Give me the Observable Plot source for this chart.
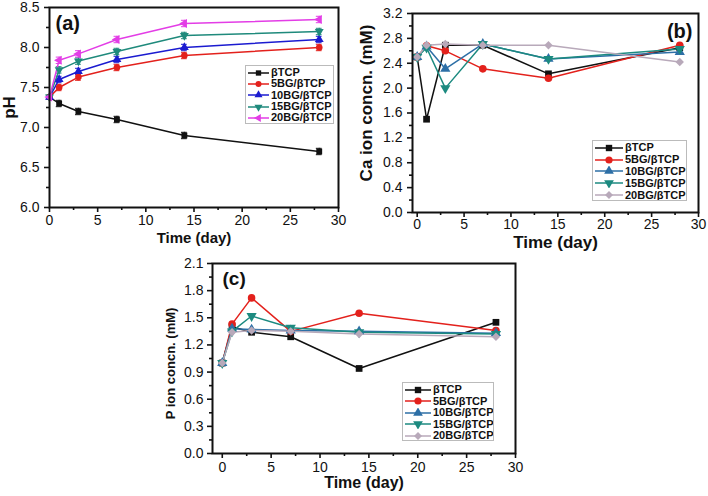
<!DOCTYPE html>
<html><head><meta charset="utf-8">
<script src="https://cdn.jsdelivr.net/npm/d3@7"></script>
<script src="https://cdn.jsdelivr.net/npm/@observablehq/plot@0.6"></script>
<style>
body{margin:0;background:#fff;}
#root{position:relative;width:708px;height:496px;overflow:hidden;background:#fff;font-family:"Liberation Sans",Arial,sans-serif;}
.panel{position:absolute;}
.legend{position:absolute;background:#fff;border:1px solid #bbb;font-weight:bold;color:#111;box-sizing:border-box;padding:1px 2px;font-size:11px;line-height:11px;overflow:hidden;}
.legend .row{display:flex;align-items:center;white-space:nowrap;}
.legend svg{flex:none;margin-right:2px;}
</style></head><body><div id="root"></div>
<script>
// ---------- data ----------
const days = [0, 1, 3, 7, 14, 28];
const seriesNames = ["βTCP", "5BG/βTCP", "10BG/βTCP", "15BG/βTCP", "20BG/βTCP"];

const pH_bTCP = [7.38, 7.30, 7.20, 7.10, 6.90, 6.70];
const pH_5BG  = [7.38, 7.50, 7.63, 7.75, 7.90, 8.00];
const pH_10BG = [7.38, 7.60, 7.70, 7.85, 8.00, 8.10];
const pH_15BG = [7.38, 7.72, 7.83, 7.95, 8.15, 8.20];
const pH_20BG = [7.38, 7.84, 7.92, 8.10, 8.30, 8.35];
const pH_err  = [0.00, 0.04, 0.04, 0.04, 0.04, 0.04];

const Ca_bTCP = [2.50, 1.50, 2.69, 2.69, 2.23, 2.65];
const Ca_5BG  = [2.50, 2.68, 2.60, 2.31, 2.16, 2.69];
const Ca_10BG = [2.50, 2.67, 2.31, 2.71, 2.47, 2.58];
const Ca_15BG = [2.50, 2.65, 2.00, 2.71, 2.47, 2.63];
const Ca_20BG = [2.50, 2.69, 2.71, 2.69, 2.69, 2.42];

const P_bTCP = [1.00, 1.40, 1.34, 1.29, 0.94, 1.45];
const P_5BG  = [1.00, 1.43, 1.72, 1.35, 1.55, 1.36];
const P_10BG = [1.00, 1.38, 1.37, 1.36, 1.35, 1.33];
const P_15BG = [1.00, 1.35, 1.52, 1.39, 1.34, 1.32];
const P_20BG = [1.00, 1.34, 1.36, 1.35, 1.32, 1.29];

const xTicks = [0, 5, 10, 15, 20, 25, 30];
const xMinor = [2.5, 7.5, 12.5, 17.5, 22.5, 27.5];
const pHTicks = [6.0, 6.5, 7.0, 7.5, 8.0, 8.5];
const pHMinor = [6.25, 6.75, 7.25, 7.75, 8.25];
const CaTicks = [0.0, 0.4, 0.8, 1.2, 1.6, 2.0, 2.4, 2.8, 3.2];
const CaMinor = [0.2, 0.6, 1.0, 1.4, 1.8, 2.2, 2.6, 3.0];
const PTicks = [0.0, 0.3, 0.6, 0.9, 1.2, 1.5, 1.8, 2.1];
const PMinor = [0.15, 0.45, 0.75, 1.05, 1.35, 1.65, 1.95];

const xLabel = "Time (day)";
const yLabels = ["pH", "Ca ion concn. (mM)", "P ion concn. (mM)"];
const panelLabels = ["(a)", "(b)", "(c)"];

// ---------- styles ----------
const colorsA = ["#111111", "#e3211c", "#1b1bd0", "#1f8a7c", "#e33de6"];
const colorsBC = ["#111111", "#e3211c", "#2d6fa6", "#1c8a80", "#b8a9ba"];

const triDown = {draw(ctx, size) {
  const y = -Math.sqrt(size / (Math.sqrt(3) * 3));
  ctx.moveTo(0, -y * 2); ctx.lineTo(-Math.sqrt(3) * y, y); ctx.lineTo(Math.sqrt(3) * y, y); ctx.closePath();
}};
const triLeft = {draw(ctx, size) {
  const y = -Math.sqrt(size / (Math.sqrt(3) * 3));
  ctx.moveTo(y * 2, 0); ctx.lineTo(-y, -Math.sqrt(3) * y); ctx.lineTo(-y, Math.sqrt(3) * y); ctx.closePath();
}};
const symbolsA = [d3.symbolSquare, d3.symbolCircle, d3.symbolTriangle, triDown, triLeft];
const symbolsBC = [d3.symbolSquare, d3.symbolCircle, d3.symbolTriangle, triDown, d3.symbolDiamond2];

function rows(values, err) {
  return days.map((x, j) => ({x, y: values[j], err: err ? err[j] : 0}));
}

function panel(cfg) {
  const marks = [];
  cfg.series.forEach((vals, i) => {
    const data = rows(vals, cfg.err);
    const c = cfg.colors[i];
    marks.push(Plot.line(data, {x: "x", y: "y", stroke: c, strokeWidth: 1.5}));
    if (cfg.err) {
      const eb = data.filter(d => d.err > 0);
      marks.push(Plot.ruleX(eb, {x: "x", y1: d => d.y - d.err, y2: d => d.y + d.err, stroke: c, strokeWidth: 1}));
      marks.push(Plot.ruleY(eb, {y: d => d.y + d.err, x1: d => d.x - 0.3, x2: d => d.x + 0.3, stroke: c, strokeWidth: 1}));
      marks.push(Plot.ruleY(eb, {y: d => d.y - d.err, x1: d => d.x - 0.3, x2: d => d.x + 0.3, stroke: c, strokeWidth: 1}));
    }
  });
  cfg.series.forEach((vals, i) => {
    const data = rows(vals);
    marks.push(Plot.dot(data, {x: "x", y: "y", symbol: cfg.symbols[i], r: cfg.r, fill: cfg.colors[i], stroke: "none"}));
  });
  marks.push(
    Plot.axisX(xTicks, {tickSize: 5, tickPadding: cfg.xPad, strokeWidth: 1.6, fontSize: cfg.tickFont, label: null}),
    Plot.axisX(xMinor, {tickSize: 3, strokeWidth: 1.6, tickFormat: () => "", label: null}),
    Plot.axisY(cfg.yTicks, {tickSize: 5, tickPadding: cfg.yPad, strokeWidth: 1.6, fontSize: cfg.tickFont, tickFormat: d => d.toFixed(1), label: null}),
    Plot.axisY(cfg.yMinor, {tickSize: 3, strokeWidth: 1.6, tickFormat: () => "", label: null}),
    Plot.frame({stroke: "#111", strokeWidth: 2}),
    Plot.text([xLabel], {frameAnchor: "bottom", textAnchor: "middle", lineAnchor: "top", dy: cfg.xLabDy, fontSize: cfg.xLabFont, fontWeight: "bold", fill: "#111"}),
    Plot.text([cfg.yLabel], {frameAnchor: "left", textAnchor: "middle", lineAnchor: "middle", rotate: -90, dx: cfg.yLabDx, dy: cfg.yLabDy, fontSize: cfg.yLabFont, fontWeight: "bold", fill: "#111"}),
    Plot.text([cfg.panelLabel], {frameAnchor: cfg.plAnchor, textAnchor: cfg.plTextAnchor, lineAnchor: "top", dx: cfg.plDx, dy: cfg.plDy, fontSize: cfg.plFont, fontWeight: "bold", fill: "#111"})
  );
  const p = Plot.plot({
    width: cfg.width, height: cfg.height,
    marginLeft: cfg.m[0], marginTop: cfg.m[1], marginRight: cfg.m[2], marginBottom: cfg.m[3],
    x: {domain: cfg.xDomain}, y: {domain: cfg.yDomain},
    style: {fontFamily: '"Liberation Sans", Arial, sans-serif', color: "#111", background: "transparent", overflow: "visible"},
    marks
  });
  const div = document.createElement("div");
  div.className = "panel";
  div.style.left = cfg.left + "px"; div.style.top = cfg.top + "px";
  div.appendChild(p);
  document.getElementById("root").appendChild(div);
}

function legend(cfg) {
  const box = document.createElement("div");
  box.className = "legend";
  Object.assign(box.style, {left: cfg.left + "px", top: cfg.top + "px", width: cfg.w + "px", height: cfg.h + "px"});
  seriesNames.forEach((name, i) => {
    const row = document.createElement("div");
    row.className = "row";
    row.style.height = cfg.rowH + "px";
    const sw = cfg.sw;
    const svg = d3.create("svg").attr("width", sw).attr("height", 10);
    svg.append("line").attr("x1", 0).attr("x2", sw).attr("y1", 5).attr("y2", 5).attr("stroke", cfg.colors[i]).attr("stroke-width", 1.5);
    svg.append("path").attr("d", d3.symbol(cfg.symbols[i], cfg.r * cfg.r * Math.PI)()).attr("transform", `translate(${sw / 2},5)`).attr("fill", cfg.colors[i]);
    row.appendChild(svg.node());
    const t = document.createElement("span");
    t.textContent = name;
    row.appendChild(t);
    box.appendChild(row);
  });
  document.getElementById("root").appendChild(box);
}

// (a) pH
panel({
  left: 0, top: 0, width: 345, height: 245, m: [49, 7, 7, 38],
  xDomain: [0, 30], yDomain: [6, 8.5], yTicks: pHTicks, yMinor: pHMinor,
  series: [pH_bTCP, pH_5BG, pH_10BG, pH_15BG, pH_20BG], err: pH_err,
  colors: colorsA, symbols: symbolsA, r: 3.3,
  tickFont: 14, xPad: 3, yPad: 5,
  xLabDy: 25, xLabFont: 15, yLabel: yLabels[0], yLabDx: -40, yLabDy: 0, yLabFont: 17,
  panelLabel: panelLabels[0], plAnchor: "top-left", plTextAnchor: "start", plDx: 6, plDy: 8, plFont: 20
});
legend({left: 245, top: 65, w: 89, h: 59, rowH: 11.3, sw: 21, r: 3, colors: colorsA, symbols: symbolsA});

// (b) Ca
panel({
  left: 354, top: 0, width: 354, height: 250, m: [58, 13, 10, 38],
  xDomain: [-0.5, 30], yDomain: [0, 3.2], yTicks: CaTicks, yMinor: CaMinor,
  series: [Ca_bTCP, Ca_5BG, Ca_10BG, Ca_15BG, Ca_20BG],
  colors: colorsBC, symbols: symbolsBC, r: 3.8,
  tickFont: 14, xPad: 2, yPad: 5,
  xLabDy: 23, xLabFont: 17, yLabel: yLabels[1], yLabDx: -46, yLabDy: -10, yLabFont: 17,
  panelLabel: panelLabels[1], plAnchor: "top-right", plTextAnchor: "end", plDx: -6, plDy: 10, plFont: 20
});
legend({left: 592, top: 140, w: 95, h: 61, rowH: 11.8, sw: 28, r: 3.6, colors: colorsBC, symbols: symbolsBC});

// (c) P
panel({
  left: 160, top: 240, width: 360, height: 256, m: [52, 23, 5, 43],
  xDomain: [-1, 30], yDomain: [0, 2.1], yTicks: PTicks, yMinor: PMinor,
  series: [P_bTCP, P_5BG, P_10BG, P_15BG, P_20BG],
  colors: colorsBC, symbols: symbolsBC, r: 3.8,
  tickFont: 14, xPad: 4, yPad: 4,
  xLabDy: 23, xLabFont: 16, yLabel: yLabels[2], yLabDx: -42, yLabDy: 5, yLabFont: 13,
  panelLabel: panelLabels[2], plAnchor: "top-left", plTextAnchor: "start", plDx: 10, plDy: 8, plFont: 19
});
legend({left: 402, top: 382, w: 92, h: 59, rowH: 11.5, sw: 26, r: 3.6, colors: colorsBC, symbols: symbolsBC});
</script></body></html>
